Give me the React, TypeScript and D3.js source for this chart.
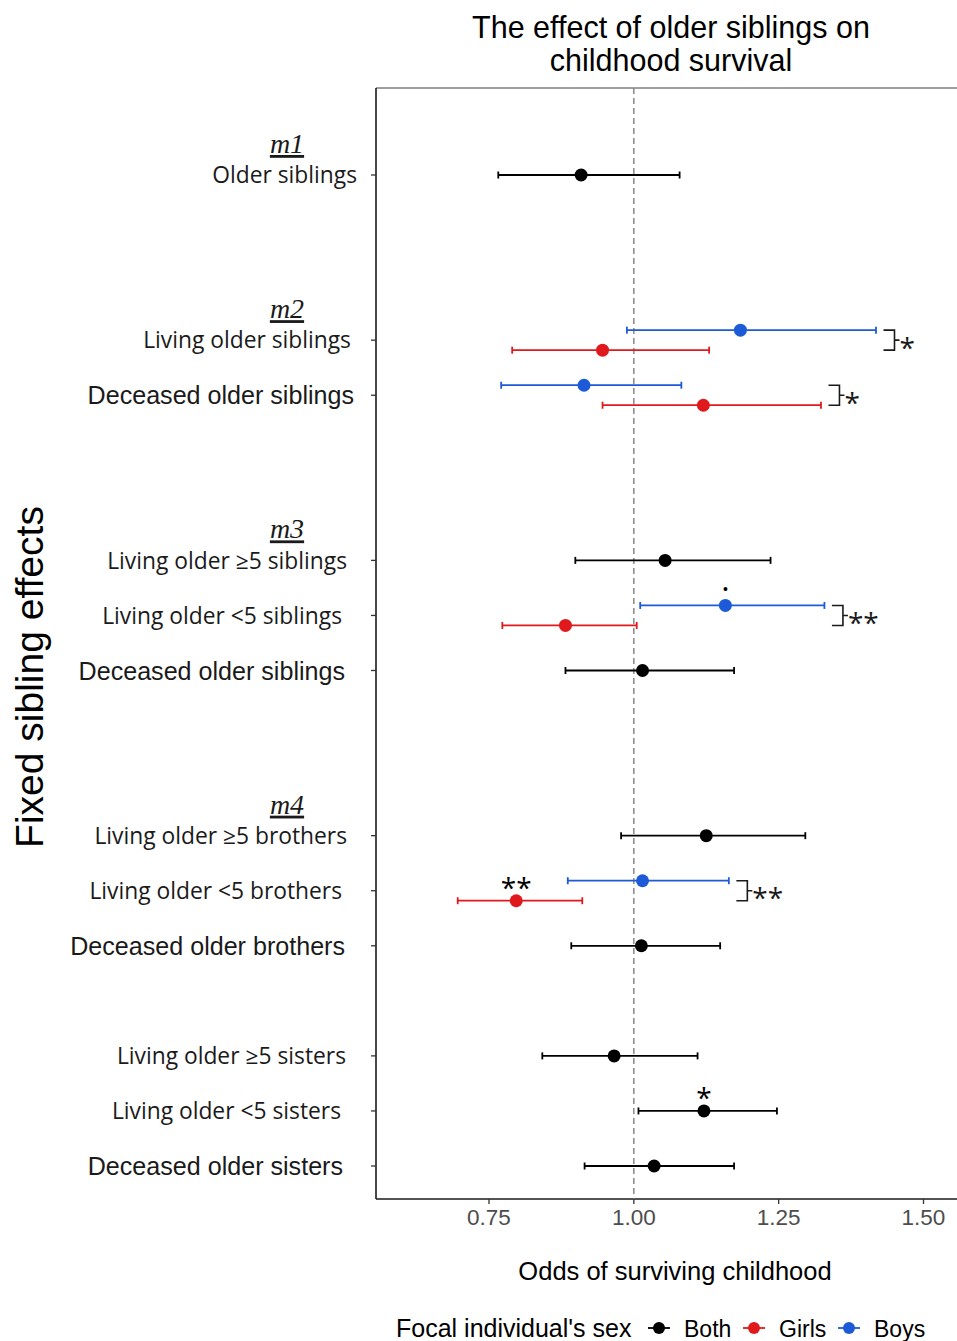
import React from "react";
import * as d3 from "d3";

// ---------- data ----------
const rowLabels = [
  "Older siblings",
  "Living older siblings",
  "Deceased older siblings",
  "Living older \u22655 siblings",
  "Living older <5 siblings",
  "Deceased older siblings",
  "Living older \u22655 brothers",
  "Living older <5 brothers",
  "Deceased older brothers",
  "Living older \u22655 sisters",
  "Living older <5 sisters",
  "Deceased older sisters",
];
const rowSlots = [0, 3, 4, 7, 8, 9, 12, 13, 14, 16, 17, 18];
const modelLabels = ["m1", "m2", "m3", "m4"];
const modelFirstRow = [0, 1, 3, 6];

const sexes = ["Both", "Girls", "Boys"];
const sexColors = ["#000000", "#e0191c", "#1c5ad8"];

const bothEst = [0.909, null, null, 1.054, null, 1.015, 1.125, null, 1.013, 0.966, 1.121, 1.035];
const bothLo = [0.766, null, null, 0.899, null, 0.882, 0.978, null, 0.892, 0.842, 1.008, 0.915];
const bothHi = [1.079, null, null, 1.236, null, 1.173, 1.296, null, 1.149, 1.11, 1.247, 1.173];
const bothSig = [null, null, null, null, null, null, null, null, null, null, "*", null];

const girlsEst = [null, 0.946, 1.12, null, 0.882, null, null, 0.797, null, null, null, null];
const girlsLo = [null, 0.79, 0.946, null, 0.773, null, null, 0.696, null, null, null, null];
const girlsHi = [null, 1.13, 1.323, null, 1.005, null, null, 0.911, null, null, null, null];
const girlsSig = [null, null, null, null, null, null, null, "**", null, null, null, null];

const boysEst = [null, 1.184, 0.914, null, 1.158, null, null, 1.015, null, null, null, null];
const boysLo = [null, 0.988, 0.771, null, 1.011, null, null, 0.886, null, null, null, null];
const boysHi = [null, 1.418, 1.082, null, 1.329, null, null, 1.164, null, null, null, null];
const boysSig = [null, null, null, null, "\u2022", null, null, null, null, null, null, null];

// significance of the girls vs boys difference
const diffSig = [null, "*", "*", null, "**", null, null, "**", null, null, null, null];

const xTicks = [0.75, 1.0, 1.25, 1.5];

// ---------- layout ----------
const W = 957;
const H = 1341;
const plotLeft = 376;
const plotTop = 88;
const plotBottom = 1199;
// right edge of each y label (styling)
const labelEnd = [357, 351, 354, 347, 342, 345, 347, 342, 345, 346, 341, 343];

const x = d3.scaleLinear().domain([0.75, 1.5]).range([489, 923.5]);
const y = d3.scaleLinear().domain([0, 18]).range([175, 1166]);

const sexOffset = 10;

type Mark = { row: number; sex: number; est: number; lo: number; hi: number; sig: string | null; off: number };

function buildMarks(): Mark[] {
  const ests = [bothEst, girlsEst, boysEst];
  const los = [bothLo, girlsLo, boysLo];
  const his = [bothHi, girlsHi, boysHi];
  const sigs = [bothSig, girlsSig, boysSig];
  const out: Mark[] = [];
  rowLabels.forEach((_, r) => {
    const present = [0, 1, 2].filter((s) => ests[s][r] != null);
    present.forEach((s) => {
      let off = 0;
      if (present.length > 1) off = s === 2 ? -sexOffset : s === 1 ? sexOffset : 0;
      out.push({
        row: r,
        sex: s,
        est: ests[s][r] as number,
        lo: los[s][r] as number,
        hi: his[s][r] as number,
        sig: sigs[s][r],
        off,
      });
    });
  });
  return out;
}

const sansArial = "Arial, 'Liberation Sans', sans-serif";
const sansOpen = "'Open Sans', 'Noto Sans', sans-serif";

export default function App() {
  const marks = buildMarks();
  const capH = 3.5;
  const r = 6.5;

  return (
    <svg
      width={W}
      height={H}
      viewBox={`0 0 ${W} ${H}`}
      style={{ position: "absolute", left: 0, top: 0, background: "#fff" }}
    >
      <rect x={0} y={0} width={W} height={H} fill="#fff" />
      {/* Title */}
      <text x={671} y={38} textAnchor="middle" fontFamily={sansArial} fontSize={30.5} fill="#000">
        The effect of older siblings on
      </text>
      <text x={671} y={71} textAnchor="middle" fontFamily={sansArial} fontSize={30.5} fill="#000">
        childhood survival
      </text>

      {/* frame */}
      <line x1={plotLeft} x2={W} y1={plotTop} y2={plotTop} stroke="#7f7f7f" strokeWidth={1.5} />
      <line x1={plotLeft} x2={plotLeft} y1={plotTop} y2={plotBottom} stroke="#1a1a1a" strokeWidth={1.6} />
      <line x1={plotLeft} x2={W} y1={plotBottom} y2={plotBottom} stroke="#1a1a1a" strokeWidth={1.6} />

      {/* reference line */}
      <line
        x1={x(1)}
        x2={x(1)}
        y1={plotTop}
        y2={plotBottom}
        stroke="#808080"
        strokeWidth={1.4}
        strokeDasharray="6,4"
      />

      {/* x ticks */}
      {xTicks.map((t) => (
        <g key={t}>
          <line x1={x(t)} x2={x(t)} y1={plotBottom} y2={plotBottom + 5} stroke="#333" strokeWidth={1.3} />
          <text
            x={x(t)}
            y={1225}
            textAnchor="middle"
            fontFamily={sansArial}
            fontSize={22.5}
            fill="#4d4d4d"
          >
            {d3.format(".2f")(t)}
          </text>
        </g>
      ))}

      {/* y ticks and labels */}
      {rowLabels.map((lab, i) => {
        const yy = y(rowSlots[i]);
        const dec = lab.startsWith("Deceased");
        return (
          <g key={i}>
            <line x1={plotLeft - 5} x2={plotLeft} y1={yy} y2={yy} stroke="#333" strokeWidth={1.3} />
            <text
              x={labelEnd[i]}
              y={yy}
              dy="0.36em"
              textAnchor="end"
              fontFamily={dec ? sansArial : sansOpen}
              fontSize={dec ? 25.1 : 22.8}
              fill="#1a1a1a"
            >
              {lab}
            </text>
          </g>
        );
      })}

      {/* model labels */}
      {modelLabels.map((m, i) => (
        <text
          key={m}
          x={287}
          y={y(rowSlots[modelFirstRow[i]]) - 22}
          textAnchor="middle"
          fontFamily="'Liberation Serif', 'Times New Roman', serif"
          fontStyle="italic"
          fontSize={28}
          textDecoration="underline"
          fill="#1a1a1a"
        >
          {m}
        </text>
      ))}

      {/* error bars and points */}
      {marks.map((m, i) => {
        const yy = y(rowSlots[m.row]) + m.off;
        const c = sexColors[m.sex];
        const dot = m.sig === "\u2022";
        return (
          <g key={i}>
            <line x1={x(m.lo)} x2={x(m.hi)} y1={yy} y2={yy} stroke={c} strokeWidth={1.8} />
            <line x1={x(m.lo)} x2={x(m.lo)} y1={yy - capH} y2={yy + capH} stroke={c} strokeWidth={1.8} />
            <line x1={x(m.hi)} x2={x(m.hi)} y1={yy - capH} y2={yy + capH} stroke={c} strokeWidth={1.8} />
            <circle cx={x(m.est)} cy={yy} r={r} fill={c} />
            {m.sig && (
              <text
                x={x(m.est)}
                y={dot ? yy - 16 : yy - 20}
                dy={dot ? "0.35em" : "0.6em"}
                textAnchor="middle"
                fontFamily={dot ? sansArial : sansOpen}
                fontSize={dot ? 14 : 28}
                fill="#000"
              >
                {m.sig}
              </text>
            )}
          </g>
        );
      })}

      {/* difference brackets */}
      {diffSig.map((s, i) => {
        if (!s) return null;
        const hi = Math.max(girlsHi[i] as number, boysHi[i] as number);
        const bx = x(hi) + 7.5;
        const yc = y(rowSlots[i]);
        const y1 = yc - sexOffset;
        const y2 = yc + sexOffset;
        const bw = 11;
        return (
          <g key={"b" + i}>
            <path
              d={`M${bx},${y1}H${bx + bw}V${y2}H${bx}M${bx + bw},${yc}H${bx + bw + 5}`}
              fill="none"
              stroke="#1a1a1a"
              strokeWidth={1.6}
            />
            <text
              x={bx + bw + 5}
              y={yc}
              dy="0.62em"
              fontFamily={sansOpen}
              fontSize={28}
              fill="#1a1a1a"
            >
              {s}
            </text>
          </g>
        );
      })}

      {/* axis titles */}
      <text
        transform={`translate(43,${677}) rotate(-90)`}
        textAnchor="middle"
        fontFamily={sansArial}
        fontSize={39}
        fill="#000"
      >
        Fixed sibling effects
      </text>
      <text x={675} y={1280} textAnchor="middle" fontFamily={sansArial} fontSize={25.5} fill="#000">
        Odds of surviving childhood
      </text>

      {/* legend */}
      <text x={396} y={1337} fontFamily={sansArial} fontSize={25} fill="#000">
        Focal individual's sex
      </text>
      {sexes.map((s, i) => {
        const kx = 648 + i * 95;
        const ky = 1328;
        return (
          <g key={s}>
            <line x1={kx} x2={kx + 22} y1={ky} y2={ky} stroke={sexColors[i]} strokeWidth={1.8} />
            <circle cx={kx + 11} cy={ky} r={6} fill={sexColors[i]} />
            <text x={kx + 36} y={1337} fontFamily={sansArial} fontSize={23} fill="#000">
              {s}
            </text>
          </g>
        );
      })}
    </svg>
  );
}
